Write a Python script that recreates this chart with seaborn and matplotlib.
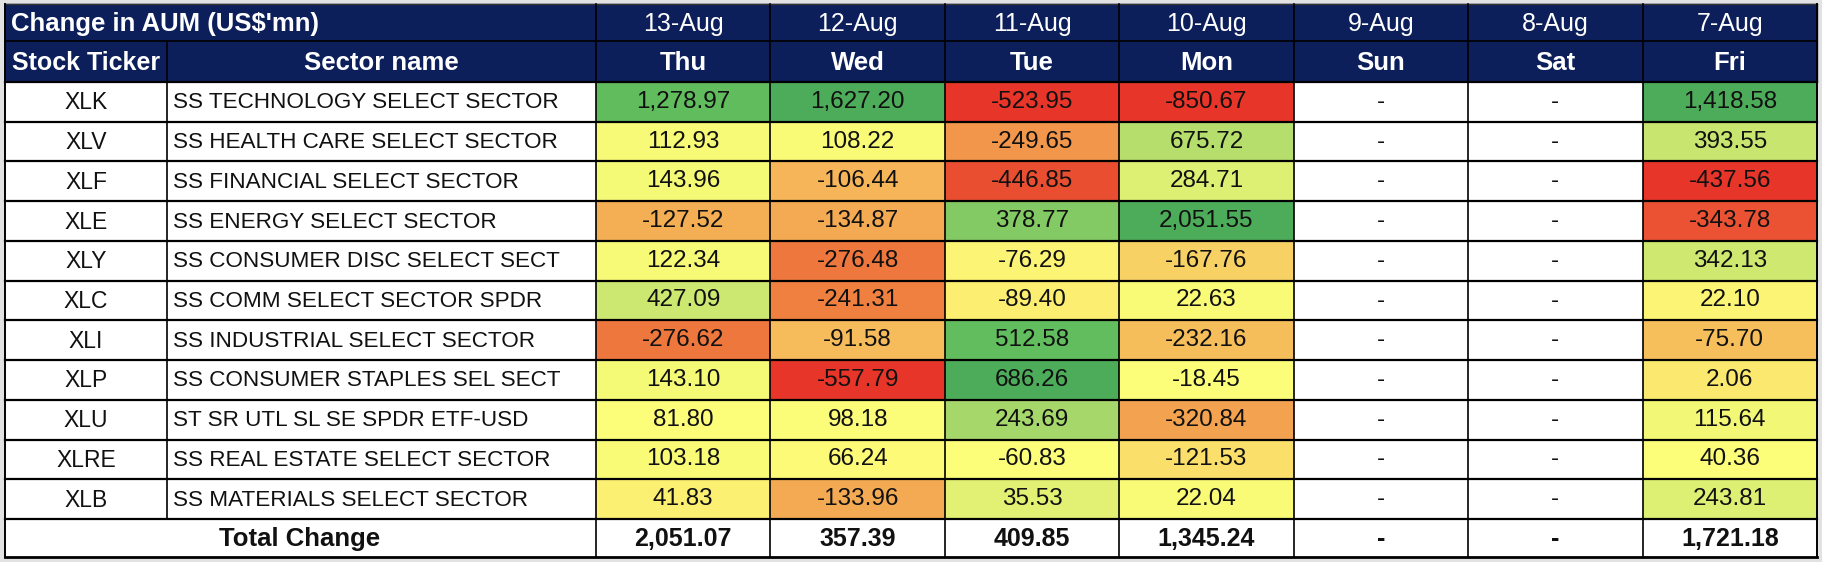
import numpy as np
import pandas as pd
import matplotlib
matplotlib.use("Agg")
import matplotlib.pyplot as plt
from matplotlib.colors import LinearSegmentedColormap
from matplotlib.patches import Rectangle
import seaborn as sns

# Table data
tickers = ["XLK", "XLV", "XLF", "XLE", "XLY", "XLC", "XLI", "XLP", "XLU", "XLRE", "XLB"]
sectors = [
    "SS TECHNOLOGY SELECT SECTOR",
    "SS HEALTH CARE SELECT SECTOR",
    "SS FINANCIAL SELECT SECTOR",
    "SS ENERGY SELECT SECTOR",
    "SS CONSUMER DISC SELECT SECT",
    "SS COMM SELECT SECTOR SPDR",
    "SS INDUSTRIAL SELECT SECTOR",
    "SS CONSUMER STAPLES SEL SECT",
    "ST SR UTL SL SE SPDR ETF-USD",
    "SS REAL ESTATE SELECT SECTOR",
    "SS MATERIALS SELECT SECTOR",
]
dates = ["13-Aug", "12-Aug", "11-Aug", "10-Aug", "9-Aug", "8-Aug", "7-Aug"]
weekdays = ["Thu", "Wed", "Tue", "Mon", "Sun", "Sat", "Fri"]

thu = [1278.97, 112.93, 143.96, -127.52, 122.34, 427.09, -276.62, 143.10, 81.80, 103.18, 41.83]
wed = [1627.20, 108.22, -106.44, -134.87, -276.48, -241.31, -91.58, -557.79, 98.18, 66.24, -133.96]
tue = [-523.95, -249.65, -446.85, 378.77, -76.29, -89.40, 512.58, 686.26, 243.69, -60.83, 35.53]
mon = [-850.67, 675.72, 284.71, 2051.55, -167.76, 22.63, -232.16, -18.45, -320.84, -121.53, 22.04]
sun = [np.nan] * 11
sat = [np.nan] * 11
fri = [1418.58, 393.55, -437.56, -343.78, 342.13, 22.10, -75.70, 2.06, 115.64, 40.36, 243.81]
totals = [2051.07, 357.39, 409.85, 1345.24, np.nan, np.nan, 1721.18]

# Colour-scale groups (Thu and Wed share one scale, the others have their own)
scale_groups = [["Thu", "Wed"], ["Tue"], ["Mon"], ["Fri"]]

values = pd.DataFrame(
    {"Thu": thu, "Wed": wed, "Tue": tue, "Mon": mon, "Sun": sun, "Sat": sat, "Fri": fri},
    index=tickers,
)

# Excel-like 3 colour scale: min red, 50th percentile yellow, max green
scaled = pd.DataFrame(np.nan, index=values.index, columns=values.columns)
for group in scale_groups:
    block = values[group]
    flat = block.values.ravel()
    lo, mid, hi = flat.min(), np.median(flat), flat.max()
    scaled[group] = np.where(
        block <= mid, (block - mid) / (mid - lo), (block - mid) / (hi - mid)
    )

labels = values.map(lambda v: "-" if np.isnan(v) else f"{v:,.2f}")

cmap = LinearSegmentedColormap.from_list(
    "rdylgn_excel",
    [(0.0, "#E8352A"), (0.25, "#EF8040"), (0.5, "#FDFD78"),
     (0.7, "#A8D86A"), (0.88, "#63BE5E"), (1.0, "#4DAC5A")],
)

NAVY = "#0C1F5B"
INK = "#111111"
W, H = 1822, 562
col_x = [5, 167, 596]
data_left, data_right = 596, 1817
top, head1, head2, data_bottom, total_bottom = 4, 41, 82, 519, 557
row_h = (data_bottom - head2) / len(tickers)
col_w = (data_right - data_left) / len(dates)

font = ["Liberation Sans", "DejaVu Sans"]
plt.rcParams["font.family"] = font

fig = plt.figure(figsize=(W / 100, H / 100), dpi=100, facecolor="#E2E2E2")

# Background layer in pixel coordinates
ax0 = fig.add_axes([0, 0, 1, 1])
ax0.set_xlim(0, W)
ax0.set_ylim(H, 0)
ax0.axis("off")
ax0.add_patch(Rectangle((col_x[0], top), data_right - col_x[0], head2 - top, color=NAVY))
ax0.add_patch(Rectangle((col_x[0], head2), data_left - col_x[0], data_bottom - head2, color="white"))
ax0.add_patch(Rectangle((col_x[0], data_bottom), data_right - col_x[0], total_bottom - data_bottom, color="white"))

# Heatmap for the coloured cells
ax_hm = fig.add_axes([
    data_left / W, (H - data_bottom) / H,
    (data_right - data_left) / W, (data_bottom - head2) / H,
])
ax_hm.set_facecolor("white")
sns.heatmap(
    scaled,
    mask=values.isna(),
    cmap=cmap,
    vmin=-1,
    vmax=1,
    annot=labels,
    fmt="",
    cbar=False,
    linewidths=0,
    annot_kws={"color": INK, "fontsize": 17.5, "family": font},
    ax=ax_hm,
)
ax_hm.set_xticks([])
ax_hm.set_yticks([])
ax_hm.set_xlabel("")
ax_hm.set_ylabel("")
for i in range(len(tickers)):
    for j, day in enumerate(weekdays):
        if np.isnan(values.iloc[i, j]):
            ax_hm.text(j + 0.5, i + 0.5, "-", ha="center", va="center",
                       fontsize=17.5, family=font, color=INK)

# Overlay layer for text and grid lines
ax1 = fig.add_axes([0, 0, 1, 1])
ax1.set_xlim(0, W)
ax1.set_ylim(H, 0)
ax1.axis("off")
ax1.patch.set_alpha(0)

y_h1 = (top + head1) / 2 + 1
y_h2 = (head1 + head2) / 2 + 1
ax1.text(11, y_h1, "Change in AUM (US$'mn)", color="white",
         fontsize=18.5, fontweight="bold", ha="left", va="center")
ax1.text((col_x[0] + col_x[1]) / 2, y_h2, "Stock Ticker", color="white",
         fontsize=18, fontweight="bold", ha="center", va="center")
ax1.text((col_x[1] + col_x[2]) / 2, y_h2, "Sector name", color="white",
         fontsize=18.5, fontweight="bold", ha="center", va="center")
for j, (d, wd) in enumerate(zip(dates, weekdays)):
    cx = data_left + (j + 0.5) * col_w
    ax1.text(cx, y_h1, d, color="white", fontsize=18, ha="center", va="center")
    ax1.text(cx, y_h2, wd, color="white", fontsize=18.5, fontweight="bold",
             ha="center", va="center")
    t = totals[j]
    ax1.text(cx, (data_bottom + total_bottom) / 2 + 1, "-" if np.isnan(t) else f"{t:,.2f}",
             color=INK, fontsize=18, fontweight="bold", ha="center", va="center")

for i, (tk, sec) in enumerate(zip(tickers, sectors)):
    cy = head2 + (i + 0.5) * row_h + 1
    ax1.text((col_x[0] + col_x[1]) / 2, cy, tk, color=INK, fontsize=16.5,
             ha="center", va="center")
    ax1.text(col_x[1] + 6, cy, sec, color=INK, fontsize=16.2,
             ha="left", va="center")
ax1.text(300, (data_bottom + total_bottom) / 2 + 1, "Total Change", color=INK,
         fontsize=18.5, fontweight="bold", ha="center", va="center")

# Grid lines
for i in range(len(tickers) + 1):
    y = head2 + i * row_h
    ax1.plot([col_x[0], data_right], [y, y], color="black", lw=1.6)
ax1.plot([col_x[0], data_right], [head1, head1], color="black", lw=1.2)
ax1.plot([col_x[0], data_right], [total_bottom, total_bottom], color="black", lw=2)
ax1.plot([col_x[0], data_right], [top, top], color="#333333", lw=1)
for x in [col_x[0], data_right]:
    ax1.plot([x, x], [top, total_bottom], color="black", lw=1.4)
ax1.plot([col_x[1], col_x[1]], [head1, data_bottom], color="black", lw=1.2)
for j in range(len(dates)):
    x = data_left + j * col_w
    ax1.plot([x, x], [top, total_bottom], color="black", lw=1.2)

fig.savefig("out.png", dpi=100, facecolor=fig.get_facecolor())
plt.close(fig)
